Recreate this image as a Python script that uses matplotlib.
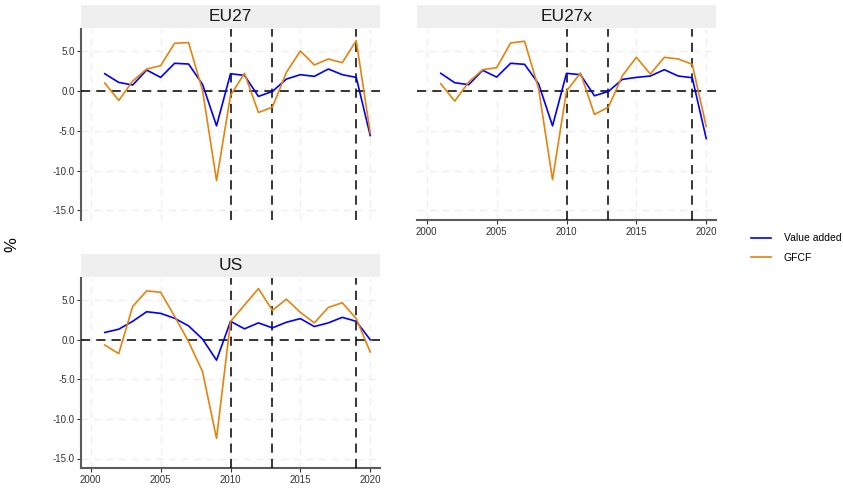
import matplotlib
matplotlib.use("Agg")
import matplotlib.pyplot as plt
from matplotlib.patches import Rectangle

plt.rcParams["font.family"] = ["Liberation Sans", "DejaVu Sans"]

years = list(range(2001, 2021))

eu27_va = [2.18, 1.09, 0.76, 2.65, 1.72, 3.49, 3.40, 0.84, -4.37, 2.18,
           1.97, -0.67, -0.04, 1.51, 2.06, 1.85, 2.77, 2.06, 1.72, -5.59]
eu27_gfcf = [1.01, -1.18, 1.26, 2.77, 3.19, 6.01, 6.09, 0.08, -11.26, -0.55,
             2.23, -2.69, -2.02, 2.35, 5.04, 3.28, 4.03, 3.57, 6.34, -5.25]

eu27x_va = [2.23, 1.05, 0.80, 2.61, 1.76, 3.49, 3.36, 0.92, -4.37, 2.23,
            2.06, -0.59, -0.04, 1.47, 1.72, 1.89, 2.69, 1.89, 1.68, -5.97]
eu27x_gfcf = [0.92, -1.26, 1.13, 2.69, 2.94, 6.05, 6.26, 0.34, -11.13, 0.0,
              2.27, -2.94, -2.02, 1.93, 4.24, 2.14, 4.24, 4.03, 3.36, -4.45]

us_va = [0.92, 1.33, 2.33, 3.54, 3.33, 2.71, 1.75, 0.08, -2.58, 2.33,
         1.38, 2.13, 1.50, 2.21, 2.67, 1.67, 2.13, 2.83, 2.33, 0.0]
us_gfcf = [-0.67, -1.75, 4.21, 6.17, 6.00, 2.96, -0.25, -4.04, -12.46, 2.29,
           4.38, 6.46, 3.71, 5.13, 3.46, 2.13, 4.08, 4.67, 2.67, -1.54]

panels = ["EU27", "EU27x", "US"]
vlines = [2010, 2013, 2019]
yticks = [5, 0, -5, -10, -15]
ytick_labels = ["5.0", "0.0", "-5.0", "-10.0", "-15.0"]
xticks = [2000, 2005, 2010, 2015, 2020]
series_names = ["Value added", "GFCF"]

data = {"EU27": (eu27_va, eu27_gfcf), "EU27x": (eu27x_va, eu27x_gfcf), "US": (us_va, us_gfcf)}

BLUE = "#0000FF"
ORANGE = "#E8820C"
GRID = "#EFEFEF"
SPINE = "#5A5A5A"

fig = plt.figure(figsize=(8.43, 4.92), dpi=100)
W, H = 843, 492

def fr(x0, y0, x1, y1):
    return [x0 / W, 1 - y1 / H, (x1 - x0) / W, (y1 - y0) / H]

layout = {
    "EU27": dict(plot=(81, 29, 380, 220), strip=(81, 5, 380, 28), yax=True, xax=False),
    "EU27x": dict(plot=(417, 29, 716, 220), strip=(417, 5, 716, 28), yax=False, xax=True),
    "US": dict(plot=(81, 278, 380, 468), strip=(81, 254, 380, 277), yax=True, xax=True),
}

handles = None
for name in panels:
    L = layout[name]
    ax = fig.add_axes(fr(*L["plot"]))
    va, gf = data[name]
    ax.set_xlim(1999.3, 2020.7)
    ax.set_ylim(-16.2, 7.8)
    for y in yticks:
        ax.axhline(y, color=GRID, lw=1.0, ls=(0, (5, 4)), zorder=0)
    for x in xticks:
        ax.axvline(x, color=GRID, lw=1.0, ls=(0, (5, 4)), zorder=0)
    ax.axhline(0, color="black", lw=1.1, ls=(0, (6, 4)), zorder=3)
    for v in vlines:
        ax.axvline(v, color="black", lw=1.1, ls=(0, (6, 4)), zorder=3)
    l1, = ax.plot(years, va, color=BLUE, lw=1.2, zorder=4)
    l2, = ax.plot(years, gf, color=ORANGE, lw=1.2, zorder=4)
    handles = [l1, l2]
    for s in ["top", "right"]:
        ax.spines[s].set_visible(False)
    ax.spines["left"].set_visible(L["yax"])
    ax.spines["bottom"].set_visible(L["xax"])
    ax.spines["left"].set_color(SPINE)
    ax.spines["bottom"].set_color(SPINE)
    ax.spines["left"].set_linewidth(1.5)
    ax.spines["bottom"].set_linewidth(1.5)
    if L["yax"]:
        ax.set_yticks(yticks)
        ax.set_yticklabels(ytick_labels, fontsize=7, color="#333333")
        ax.tick_params(axis="y", length=3, width=0.8, color="#333333", pad=1.5)
    else:
        ax.set_yticks([])
    if L["xax"]:
        ax.set_xticks(xticks)
        ax.set_xticklabels([str(x) for x in xticks], fontsize=7, color="#333333")
        ax.tick_params(axis="x", length=3, width=0.8, color="#333333", pad=2)
    else:
        ax.set_xticks([])
    ax.set_facecolor("white")

    sax = fig.add_axes(fr(*L["strip"]))
    sax.set_xlim(0, 1)
    sax.set_ylim(0, 1)
    sax.add_patch(Rectangle((0, 0), 1, 1, color="#EFEFEF", lw=0))
    sax.text(0.5, 0.48, name, ha="center", va="center", fontsize=12.5, color="#1A1A1A")
    sax.axis("off")

fig.text(12 / W, 1 - 245 / H, "%", rotation=90, ha="center", va="center", fontsize=12)

fig.legend(handles, series_names, loc="center left",
           bbox_to_anchor=(742 / W, 1 - 248 / H), frameon=False, fontsize=7.5,
           handlelength=1.9, handletextpad=1.2, labelspacing=0.9)

fig.savefig("out.png", dpi=100, facecolor="white")
